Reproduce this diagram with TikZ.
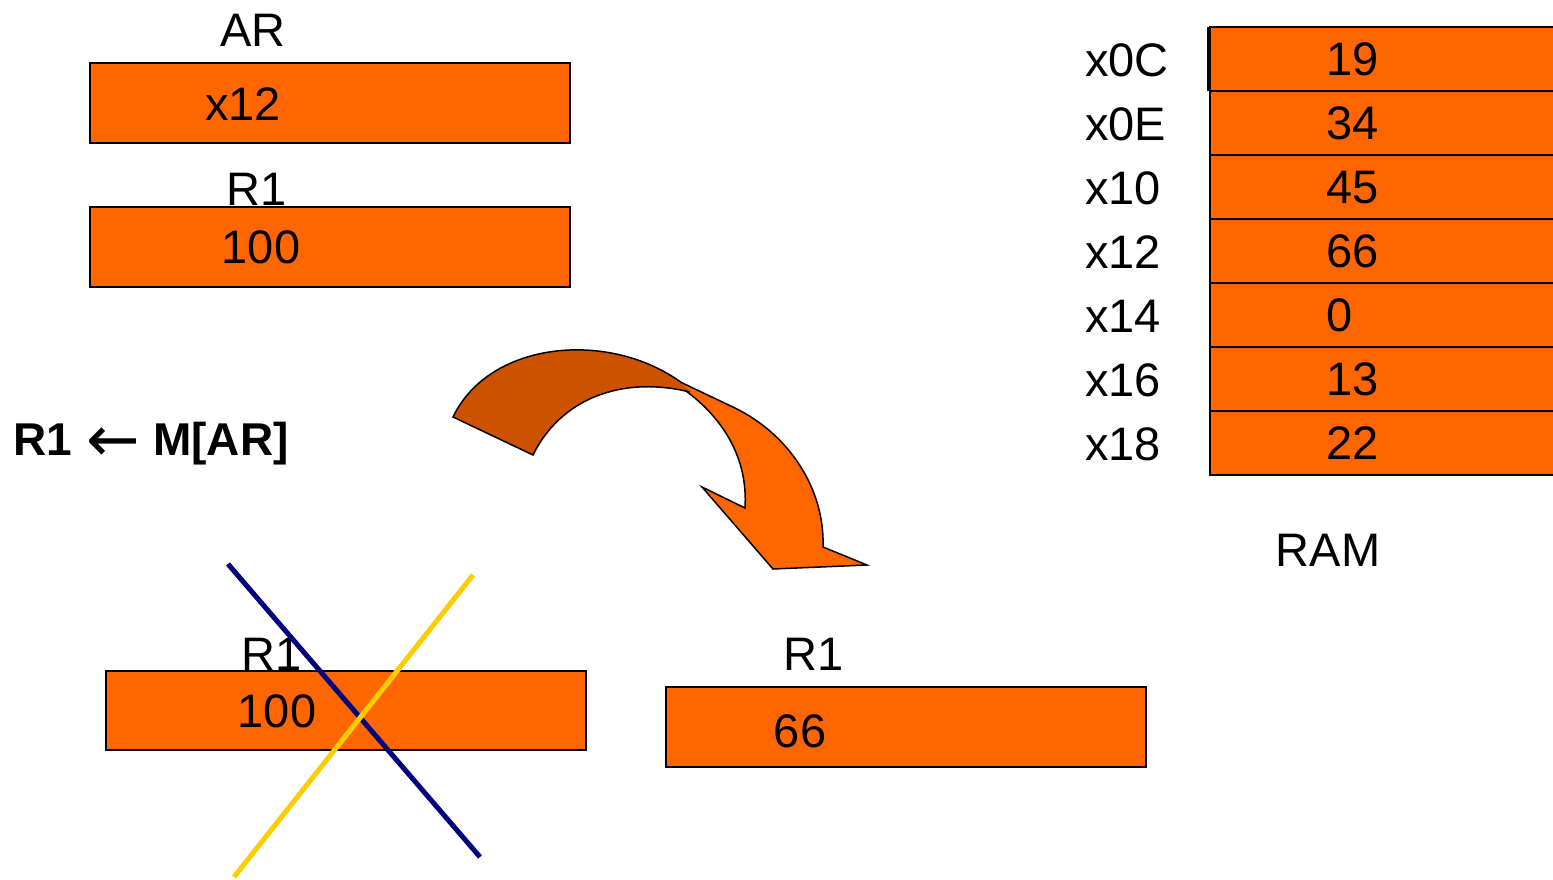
\documentclass[tikz,border=0pt]{standalone}
\usepackage{fontspec}
\setmainfont{Liberation Sans}
\newfontfamily\arrowfont{DejaVu Sans}
\begin{document}
\begin{tikzpicture}[x=1pt,y=-1pt,
  reg/.style={draw=black,line width=2pt,fill=regorange},
  txt/.style={inner sep=0pt,text height=33pt,text depth=0pt,font=\fontsize{47}{56}\selectfont},
  btxt/.style={txt,font=\fontsize{46}{55}\selectfont\bfseries},
  cell/.style={draw=black,line width=2pt,fill=regorange},
  strike/.style={line width=5pt}]
\definecolor{regorange}{HTML}{FF6600}
\definecolor{arrowdark}{HTML}{CC5200}
\definecolor{crossblue}{HTML}{000080}
\definecolor{crossyellow}{HTML}{FFCC00}
\useasboundingbox (0,0) rectangle (1553,879);

% registers before the load
\node[txt] (arlbl) at (253,30) {AR};
\draw[reg] (90,63) rectangle (570,143);
\node[txt] (arval) at (243,104) {x12};
\node[txt] (r1lbl) at (257,189) {R1};
\draw[reg] (90,207) rectangle (570,287);
\node[txt] (r1val) at (261,247) {100};

% register transfer statement
\node[btxt,anchor=west] (rtldst) at (13,439) {R1};
\node[inner sep=0pt,font=\arrowfont\fontsize{64}{64}\selectfont] (rtlarrow) at (113,445) {←};
\node[btxt,anchor=west] (rtlsrc) at (153,439) {M[AR]};

% twisted ribbon arrow: front face
\filldraw[fill=regorange,draw=black,line width=1.5pt,line join=miter]
  (655,370) -- (735,408)
  .. controls (790,435) and (825,490) .. (823,547)
  -- (867,565) -- (773,569) -- (702,487) -- (745,508)
  .. controls (748,460) and (725,420) .. (686,391) -- cycle;
% back face
\fill[arrowdark]
  (453,417) .. controls (490,340) and (610,330) .. (682,383)
  -- (690,392) .. controls (620,375) and (560,400) .. (533,455) -- cycle;
\draw[black,line width=1.5pt,line join=miter]
  (682,383) .. controls (610,330) and (490,340) .. (453,417)
  -- (533,455) .. controls (560,400) and (620,375) .. (690,392);

% RAM contents
\foreach \i/\addr/\val in {0/x0C/19,1/x0E/34,2/x10/45,3/x12/66,4/x14/0,5/x16/13,6/x18/22}{
  \draw[cell] (1210,27+64*\i) rectangle (1560,91+64*\i);
  \node[txt,anchor=west] (addr\i) at (1085,60+64*\i) {\addr};
  \node[txt,anchor=west] (val\i) at (1326,59+64*\i) {\val};
}
\draw[black,line width=2pt] (1208,27) -- (1208,91);
\node[txt] (ramlbl) at (1328,550) {RAM};

% old value of R1, crossed out
\node[txt] (oldlbl) at (272,654) {R1};
\draw[reg] (106,671) rectangle (586,750);
\node[txt] (oldval) at (277,711) {100};
\coordinate (b1) at (228,564);
\coordinate (b2) at (480,857);
\coordinate (y1) at (473,575);
\coordinate (y2) at (234,877);
\draw[strike,crossblue] (b1) -- (b2);
\draw[strike,crossyellow] (y1) -- (y2);

% new value of R1
\node[txt] (newlbl) at (814,654) {R1};
\draw[reg] (666,687) rectangle (1146,767);
\node[txt] (newval) at (800,731) {66};
\end{tikzpicture}
\end{document}
